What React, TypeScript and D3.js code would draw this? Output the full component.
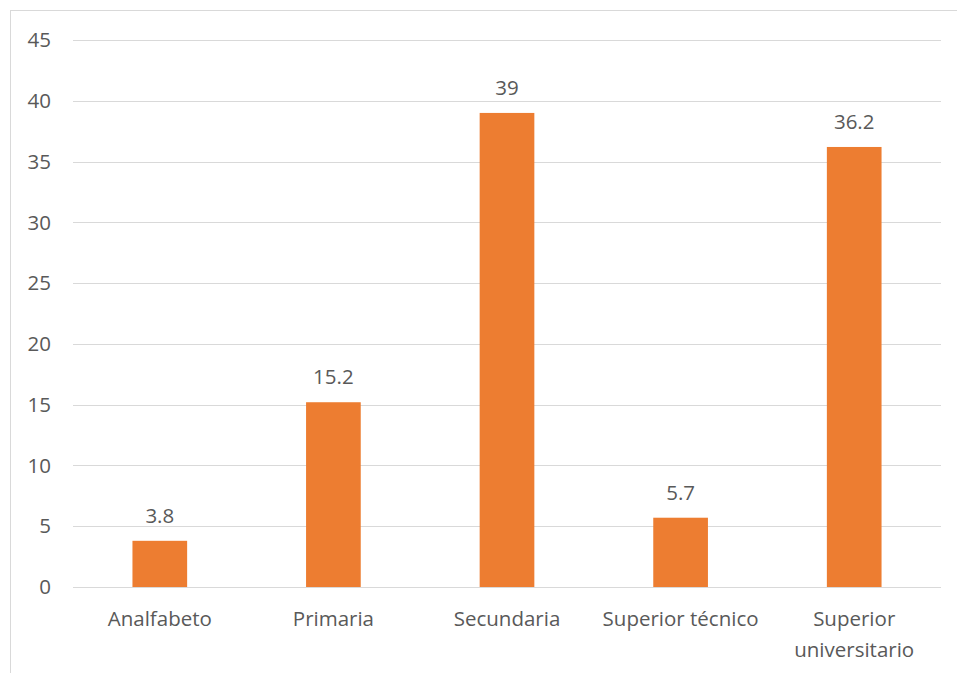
import React from "react";
import * as d3 from "d3";

const categories: string[][] = [["Analfabeto"], ["Primaria"], ["Secundaria"], ["Superior técnico"], ["Superior", "universitario"]];
const values: number[] = [3.8, 15.2, 39, 5.7, 36.2];
const valueLabels: string[] = ["3.8", "15.2", "39", "5.7", "36.2"];
const yTicks: number[] = [0, 5, 10, 15, 20, 25, 30, 35, 40, 45];

const W = 957, H = 673;
const left = 73, right = 941, top = 40, bottom = 587;
const font = "'Open Sans', sans-serif";
const textColor = "#595959";
const fs = 20.5;

export default function App() {
  const x = d3.scaleBand<number>().domain(values.map((_, i) => i)).range([left, right]).paddingInner(0.685).paddingOuter(0.3425);
  const y = d3.scaleLinear().domain([0, 45]).range([bottom, top]);
  return (
    <svg width={W} height={H} style={{ position: "absolute", left: 0, top: 0, background: "#fff" }}>
      <rect x={10.5} y={10.5} width={W} height={H} fill="#fff" stroke="#d9d9d9" strokeWidth={1} />
      {yTicks.map((t) => (
        <g key={t}>
          <line x1={left} x2={right} y1={Math.round(y(t)) + 0.5} y2={Math.round(y(t)) + 0.5} stroke="#d9d9d9" strokeWidth={1} />
          <text x={51} y={y(t)} dy="0.35em" textAnchor="end" fontFamily={font} fontSize={fs} fill={textColor}>{t}</text>
        </g>
      ))}
      {values.map((v, i) => (
        <g key={i}>
          <rect x={x(i)} y={y(v)} width={x.bandwidth()} height={y(0) - y(v)} fill="#ED7D31" />
          <text x={(x(i) as number) + x.bandwidth() / 2} y={y(v) - 18} textAnchor="middle" fontFamily={font} fontSize={fs} fill={textColor}>{valueLabels[i]}</text>
          {categories[i].map((line, j) => (
            <text key={j} x={(x(i) as number) + x.bandwidth() / 2} y={626 + j * 31} textAnchor="middle" fontFamily={font} fontSize={fs} fill={textColor}>{line}</text>
          ))}
        </g>
      ))}
    </svg>
  );
}
